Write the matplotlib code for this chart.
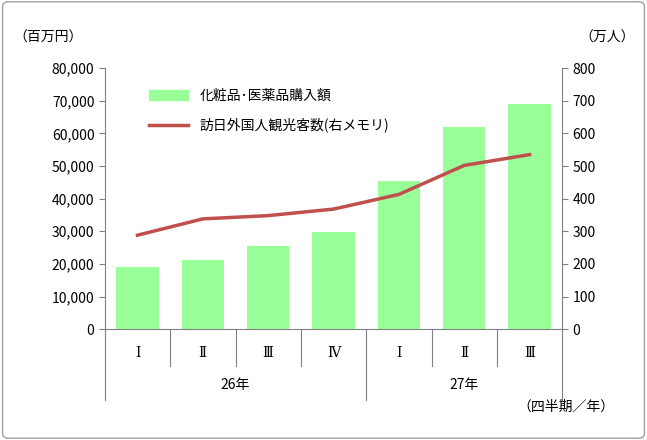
import matplotlib
matplotlib.use("Agg")
import matplotlib.pyplot as plt
from matplotlib.patches import FancyBboxPatch
from matplotlib.lines import Line2D

plt.rcParams["font.family"] = "Noto Sans CJK JP"

quarters = ["Ⅰ", "Ⅱ", "Ⅲ", "Ⅳ", "Ⅰ", "Ⅱ", "Ⅲ"]
years = ["26年", "27年"]
year_spans = [(0, 4), (4, 7)]
purchases = [19000, 21200, 25500, 29800, 45500, 62000, 69000]
visitors = [288, 338, 348, 368, 413, 502, 535]

fig = plt.figure(figsize=(6.47, 4.40), dpi=100)
fig.patches.append(FancyBboxPatch((0.004, 0.004), 0.992, 0.992, boxstyle="round,pad=0,rounding_size=0.01",
                                  transform=fig.transFigure, fill=False, ec="#a0a0a0", lw=1))
ax = fig.add_axes([0.162, 0.252, 0.707, 0.593])
x = range(len(quarters))
ax.bar(x, purchases, width=0.65, color="#99ff99", label="化粧品･医薬品購入額", zorder=2)
ax.set_xlim(-0.5, len(quarters) - 0.5)
ax.set_ylim(0, 80000)
ax.set_yticks(range(0, 80001, 10000))
ax.set_yticklabels([f"{v:,}" for v in range(0, 80001, 10000)], fontsize=10)
ax.set_xticks([])
for s in ["top", "right"]:
    ax.spines[s].set_visible(False)
ax.spines["left"].set_color("#808080")
ax.spines["bottom"].set_color("#808080")
ax.tick_params(axis="y", length=4, color="#808080")

ax2 = ax.twinx()
ax2.plot(x, visitors, color="#c0504d", lw=2.5, zorder=3)
ax2.set_ylim(0, 800)
ax2.set_yticks(range(0, 801, 100))
ax2.tick_params(axis="y", labelsize=10, length=4, color="#808080")
for s in ["top", "left", "bottom"]:
    ax2.spines[s].set_visible(False)
ax2.spines["right"].set_color("#808080")

# category axis
tr = ax.get_xaxis_transform()
for i, q in enumerate(quarters):
    ax.text(i, -0.09, q, transform=tr, ha="center", va="center", fontsize=10, family="DejaVu Serif")
for b in range(len(quarters) + 1):
    longb = b in (0, 4, 7)
    ax.add_line(Line2D([b - 0.5, b - 0.5], [0, -0.27 if longb else -0.14], transform=tr,
                       color="#808080", lw=0.8, clip_on=False))
for (a, b), yl in zip(year_spans, years):
    ax.text((a + b - 1) / 2, -0.215, yl, transform=tr, ha="center", va="center", fontsize=10)

fig.text(0.02, 0.915, "（百万円）", fontsize=10, va="center")
fig.text(0.895, 0.915, "（万人）", fontsize=10, va="center")
fig.text(0.8, 0.075, "（四半期／年）", fontsize=10, va="center")

handles = [plt.Rectangle((0, 0), 1, 1, color="#99ff99"), Line2D([], [], color="#c0504d", lw=2.5)]
ax.legend(handles, ["化粧品･医薬品購入額", "訪日外国人観光客数(右メモリ)"], loc="upper left",
          bbox_to_anchor=(0.07, 0.97), frameon=False, fontsize=10, handlelength=2.8, labelspacing=1.1)

fig.savefig("out.png", dpi=100)
